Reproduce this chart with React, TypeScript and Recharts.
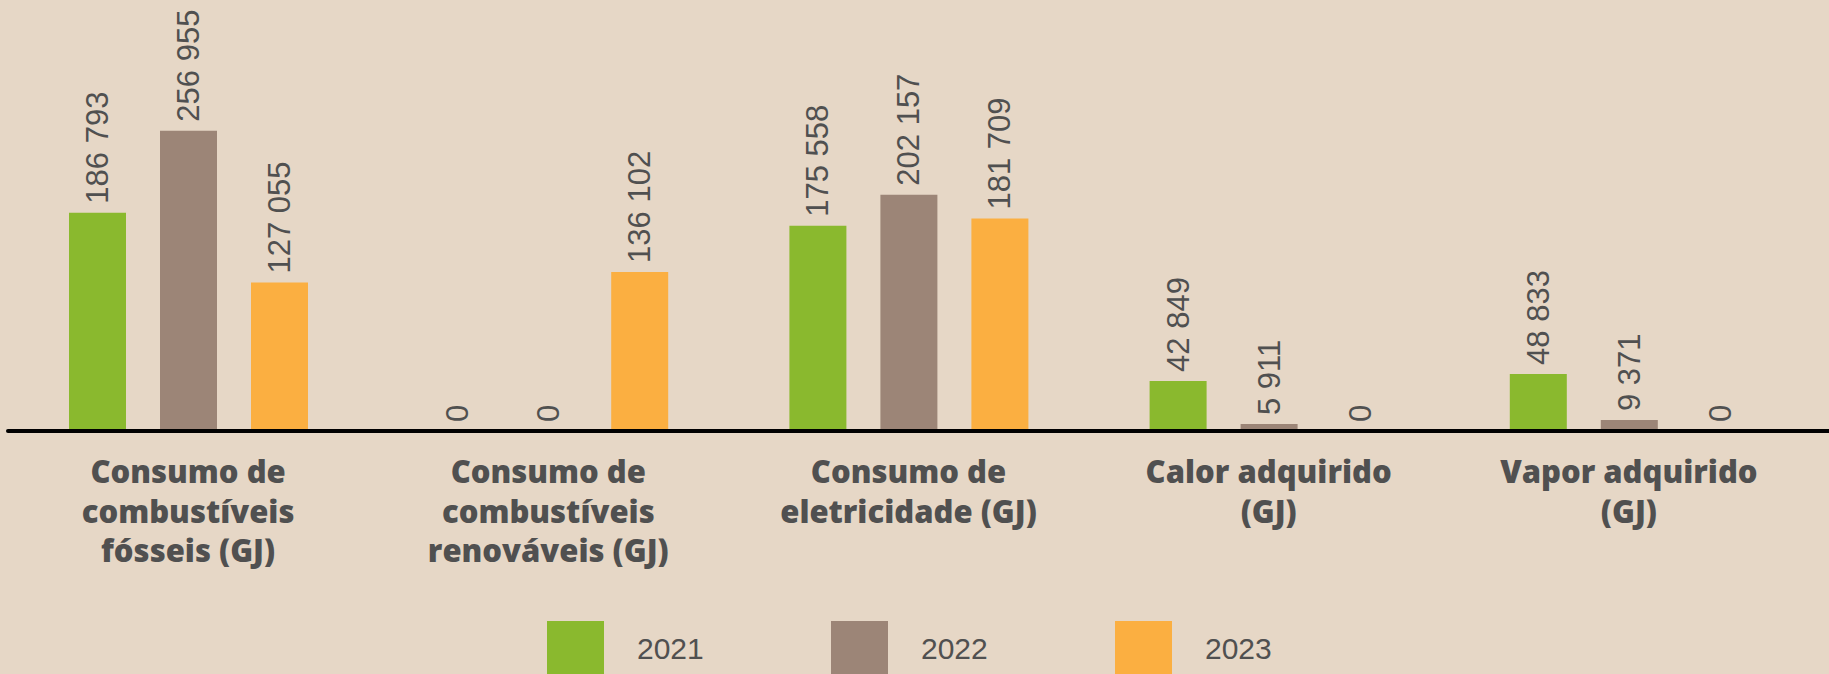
import React from 'react';
import { BarChart, Bar, XAxis, YAxis, LabelList } from 'recharts';

const categories = [
  'Consumo de\ncombustíveis\nfósseis (GJ)',
  'Consumo de\ncombustíveis\nrenováveis (GJ)',
  'Consumo de\neletricidade (GJ)',
  'Calor adquirido\n(GJ)',
  'Vapor adquirido\n(GJ)',
];
const years = ['2021', '2022', '2023'];
const values2021 = [186793, 0, 175558, 42849, 48833];
const values2022 = [256955, 0, 202157, 5911, 9371];
const values2023 = [127055, 136102, 181709, 0, 0];
const colors = ['#8ab92e', '#9c8577', '#fbaf41'];

const data = categories.map((name, i) => ({
  name,
  y2021: values2021[i],
  y2022: values2022[i],
  y2023: values2023[i],
}));

const TEXT = '#505050';
const BG = '#e6d7c6';

const fmt = (v: number) => String(v).replace(/\B(?=(\d{3})+(?!\d))/g, ' ');

const ValueLabel = (props: any) => {
  const { x, y, width, height, value } = props;
  const cx = x + width / 2;
  const top = Math.min(y, y + height) - 9;
  return (
    <text
      x={cx}
      y={top}
      transform={`rotate(-90, ${cx}, ${top})`}
      textAnchor="start"
      dominantBaseline="central"
      fontFamily="'Liberation Sans', Arial, sans-serif"
      fontSize={31}
      fill={TEXT}
    >
      {fmt(Number(value))}
    </text>
  );
};

const CategoryTick = (props: any) => {
  const { x, y, payload } = props;
  const lines = String(payload.value).split('\n');
  return (
    <text
      x={x}
      y={y}
      textAnchor="middle"
      fontFamily="'Open Sans', sans-serif"
      fontWeight={800}
      fontSize={31}
      fill={TEXT}
    >
      {lines.map((l, i) => (
        <tspan key={i} x={x} y={y + 52 + i * 39.5}>
          {l}
        </tspan>
      ))}
    </text>
  );
};

const App: React.FC = () => {
  const keys = ['y2021', 'y2022', 'y2023'];
  return (
    <div style={{ position: 'relative', width: 1829, height: 674, background: BG, overflow: 'hidden' }}>
      <style>{'body{margin:0;}'}</style>
      <BarChart
        width={1829}
        height={674}
        data={data}
        margin={{ top: 2, right: 0, left: 8, bottom: 0 }}
        barSize={57}
        barGap={34}
      >
        <XAxis
          dataKey="name"
          interval={0}
          height={243}
          tickLine={false}
          tickSize={0}
          tickMargin={0}
          axisLine={{ stroke: '#000', strokeWidth: 4, strokeLinecap: 'round' }}
          padding={{ left: 0, right: 20 }}
          tick={<CategoryTick />}
        />
        <YAxis hide domain={[0, 367000]} />
        {keys.map((k, i) => (
          <Bar key={k} dataKey={k} fill={colors[i]} minPointSize={0.01} isAnimationActive={false}>
            <LabelList dataKey={k} content={<ValueLabel />} />
          </Bar>
        ))}
      </BarChart>
      <div style={{ position: 'absolute', left: 547, top: 621, display: 'flex' }}>
        {years.map((yr, i) => (
          <div key={yr} style={{ width: 284, display: 'flex', alignItems: 'flex-start' }}>
            <div style={{ width: 57, height: 60, background: colors[i] }} />
            <div
              style={{
                marginLeft: 33,
                marginTop: 11,
                fontFamily: "'Liberation Sans', Arial, sans-serif",
                fontSize: 30,
                color: TEXT,
                lineHeight: '34px',
              }}
            >
              {yr}
            </div>
          </div>
        ))}
      </div>
    </div>
  );
};

export default App;
